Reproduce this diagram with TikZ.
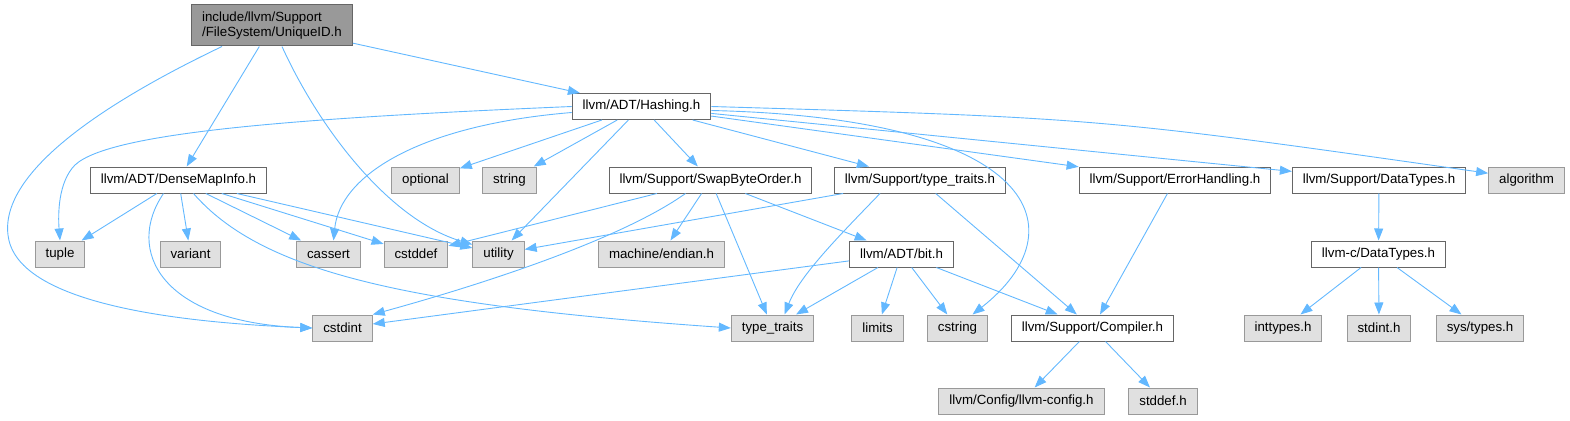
\documentclass[tikz,border=0pt]{standalone}
\usepackage{fontspec}
\setsansfont{Liberation Sans}
\usepackage{tikz}
\usetikzlibrary{arrows.meta, positioning, calc}
\definecolor{edgeblue}{RGB}{99, 184, 255}
\definecolor{nodeborder}{RGB}{102, 102, 102}
\definecolor{sysfill}{RGB}{224, 224, 224}
\definecolor{sysborder}{RGB}{153, 153, 153}
\definecolor{rootfill}{RGB}{153, 153, 153}

\begin{document}
\begin{tikzpicture}[
        x=1pt, y=-1pt,
        % Styles
        file/.style={
            rectangle,
            draw=nodeborder,
            fill=white,
            line width=1pt,
            inner xsep=10.5pt,
            inner ysep=0pt,
            minimum height=26pt,
            font=\sffamily\fontsize{13.3}{15.5}\selectfont
        },
        sysfile/.style={file, fill=sysfill, draw=sysborder},
        rootfile/.style={file, fill=rootfill, align=left, minimum height=41pt},
        inc/.style={-{Triangle[length=12pt, width=9pt]}, draw=edgeblue, line width=0.9pt}
    ]
    \useasboundingbox (0,0) rectangle (1570,420);

    % ==============================
    % 1. ROOT AND HASHING
    % ==============================
    \node[rootfile] (root) at (272,25.5) {include/llvm/Support\\/FileSystem/UniqueID.h};
    \node[file] (hashing) at (641.5,106.5) {llvm/ADT/Hashing.h};

    % ==============================
    % 2. THIRD ROW
    % ==============================
    \node[file]    (dense)     at (178.5,180) {llvm/ADT/DenseMapInfo.h};
    \node[sysfile] (optional)  at (425.5,180) {optional};
    \node[sysfile] (string)    at (509.5,180) {string};
    \node[file]    (swap)      at (710.5,180) {llvm/Support/SwapByteOrder.h};
    \node[file]    (suptt)     at (920,180)   {llvm/Support/type\_traits.h};
    \node[file]    (errh)      at (1175,180)  {llvm/Support/ErrorHandling.h};
    \node[file]    (sdt)       at (1379,180)  {llvm/Support/DataTypes.h};
    \node[sysfile] (algorithm) at (1526.5,180) {algorithm};

    % ==============================
    % 3. FOURTH ROW
    % ==============================
    \node[sysfile] (tuple)   at (60,254)    {tuple};
    \node[sysfile] (variant) at (190.5,254) {variant};
    \node[sysfile] (cassert) at (328.5,254) {cassert};
    \node[sysfile] (cstddef) at (416,254)   {cstddef};
    \node[sysfile] (utility) at (498.5,254) {utility};
    \node[sysfile] (endian)  at (661.5,254) {machine/endian.h};
    \node[file]    (bit)     at (901.5,254) {llvm/ADT/bit.h};
    \node[file]    (cdt)     at (1378.5,254) {llvm-c/DataTypes.h};

    % ==============================
    % 4. FIFTH ROW
    % ==============================
    \node[sysfile] (cstdint)    at (342.5,328) {cstdint};
    \node[sysfile] (typetraits) at (772.5,328) {type\_traits};
    \node[sysfile] (limits)     at (877.5,328) {limits};
    \node[sysfile] (cstring)    at (957.5,328) {cstring};
    \node[file]    (compiler)   at (1092.5,328) {llvm/Support/Compiler.h};
    \node[sysfile] (inttypes)   at (1283,328)  {inttypes.h};
    \node[sysfile] (stdint)     at (1379,328)  {stdint.h};
    \node[sysfile] (systypes)   at (1480,328)  {sys/types.h};

    % ==============================
    % 5. LAST ROW
    % ==============================
    \node[sysfile] (llvmconfig) at (1021.5,401) {llvm/Config/llvm-config.h};
    \node[sysfile] (stddef)     at (1163,401)   {stddef.h};

    % ==============================
    % 6. INCLUDES OF THE ROOT
    % ==============================
    \draw[inc] (root) -- (hashing);
    \draw[inc] (root) -- (dense);
    \draw[inc] ([xshift=10pt]root.south) .. controls (320,130) and (390,220) .. (utility.160);
    \draw[inc] ([xshift=-50pt]root.south) .. controls (110,100) and (0,170) .. (8,235)
        .. controls (14,290) and (120,320) .. (cstdint.west);

    % ==============================
    % 7. INCLUDES OF HASHING
    % ==============================
    \draw[inc] (hashing.west) .. controls (300,118) and (110,132) .. (75,165)
        .. controls (58,182) and (58,215) .. (tuple.north);
    \draw[inc] ([yshift=-6pt]hashing.west) .. controls (420,125) and (340,175) .. ([xshift=5pt]cassert.north);
    \draw[inc] (hashing) -- (optional);
    \draw[inc] (hashing) -- (string);
    \draw[inc] (hashing) -- (utility);
    \draw[inc] (hashing) -- (swap);
    \draw[inc] (hashing) -- (suptt);
    \draw[inc] (hashing) -- (errh);
    \draw[inc] (hashing) -- (sdt);
    \draw[inc] (hashing.east) .. controls (1100,118) .. (algorithm.170);
    \draw[inc] ([yshift=-4pt]hashing.east) .. controls (1040,118) and (1080,230) .. ([xshift=15pt]cstring.north);

    % ==============================
    % 8. INCLUDES OF DENSEMAPINFO
    % ==============================
    \draw[inc] (dense) -- (tuple);
    \draw[inc] (dense) -- (variant);
    \draw[inc] (dense) -- (cassert);
    \draw[inc] (dense) -- (cstddef);
    \draw[inc] (dense) -- (utility);
    \draw[inc] ([xshift=-15pt]dense.south) .. controls (125,250) and (160,322) .. (cstdint.west);
    \draw[inc] ([xshift=15pt]dense.south) .. controls (260,270) and (400,305) .. (typetraits.west);

    % ==============================
    % 9. INCLUDES OF SWAPBYTEORDER AND TYPE_TRAITS
    % ==============================
    \draw[inc] (swap) -- (cstddef);
    \draw[inc] ([xshift=-25pt]swap.south) .. controls (620,240) and (480,285) .. (cstdint.north east);
    \draw[inc] (swap) -- (endian);
    \draw[inc] (swap) -- (typetraits);
    \draw[inc] (swap) -- (bit);
    \draw[inc] (suptt) -- (utility);
    \draw[inc] ([xshift=-40pt]suptt.south) .. controls (840,235) and (800,275) .. ([xshift=12pt]typetraits.north);
    \draw[inc] (suptt) -- (compiler);

    % ==============================
    % 10. REMAINING INCLUDES
    % ==============================
    \draw[inc] (errh) -- (compiler);
    \draw[inc] (sdt) -- (cdt);
    \draw[inc] (cdt) -- (inttypes);
    \draw[inc] (cdt) -- (stdint);
    \draw[inc] (cdt) -- (systypes);
    \draw[inc] (bit) -- (cstdint);
    \draw[inc] (bit) -- (typetraits);
    \draw[inc] (bit) -- (limits);
    \draw[inc] (bit) -- (cstring);
    \draw[inc] (bit) -- (compiler);
    \draw[inc] (compiler) -- (llvmconfig);
    \draw[inc] (compiler) -- (stddef);

\end{tikzpicture}
\end{document}
